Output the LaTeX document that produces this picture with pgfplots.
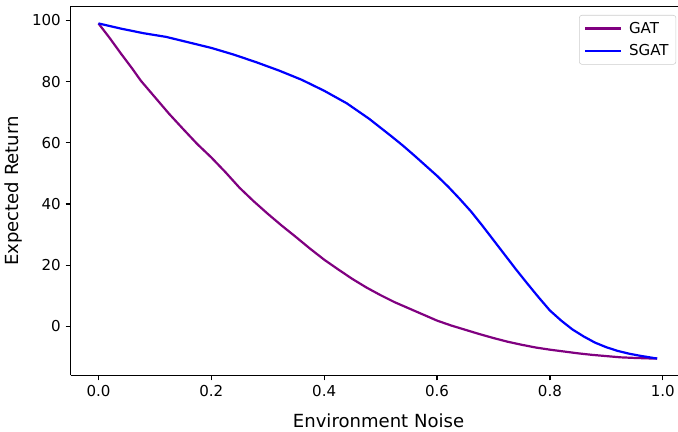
\documentclass[border=0pt]{standalone}
\usepackage{fontspec}
\setmainfont{DejaVu Sans}
\usepackage{pgfplots}
\pgfplotsset{compat=1.18}
\definecolor{gatpurple}{HTML}{800080}
\definecolor{sgatblue}{HTML}{0000FF}

\begin{document}
\begin{tikzpicture}[trim axis right]
\begin{axis}[
    scale only axis,
    width=454pt, height=275.5pt,
    xmin=-0.0495, xmax=1.027,
    ymin=-15.98, ymax=104.47,
    axis lines*=left,
    axis line style={-, line width=1pt, black},
    tick align=outside,
    major tick length=3.75pt,
    tick style={line width=1pt, black},
    xtick={0,0.2,0.4,0.6,0.8,1.0},
    ytick={0,20,40,60,80,100},
    xticklabel style={/pgf/number format/.cd, fixed, fixed zerofill, precision=1},
    tick label style={font=\fontsize{11.25}{13}\selectfont},
    /pgf/number format/assume math mode=true,
    xlabel={Environment Noise},
    ylabel={Expected Return},
    every axis x label/.style={at={(axis description cs:0.507,-0.1408)}, anchor=base, font=\fontsize{13.5}{16}\selectfont},
    every axis y label/.style={at={(axis description cs:-0.0862,0.5)}, rotate=90, anchor=base, font=\fontsize{13.5}{16}\selectfont},
    legend style={at={(axis description cs:1,1)}, anchor=north east, xshift=-1.35pt, yshift=-6.2pt,
        font=\fontsize{11.25}{13}\selectfont, draw=black!20, rounded corners=2pt,
        inner xsep=3.5pt, inner ysep=3pt, row sep=3pt, column sep=3pt, cells={anchor=west}},
    legend image code/.code={\draw[#1] (0pt,0pt) -- (27pt,0pt);},
]
\addplot[gatpurple, line width=1.65pt] coordinates {
(0.00,99.0) (0.02,94.2) (0.04,89.1) (0.06,84.2) (0.075,80.3) (0.10,74.9)
(0.125,69.5) (0.15,64.5) (0.175,59.6) (0.20,55.2) (0.225,50.4) (0.25,45.3)
(0.275,40.9) (0.30,36.8) (0.325,32.9) (0.35,29.2) (0.375,25.4) (0.40,21.8)
(0.425,18.6) (0.45,15.5) (0.475,12.7) (0.50,10.2) (0.525,7.9) (0.55,5.9)
(0.575,3.9) (0.60,1.9) (0.625,0.3) (0.65,-1.1) (0.675,-2.5) (0.70,-3.8)
(0.725,-5.0) (0.75,-6.0) (0.775,-6.9) (0.80,-7.6) (0.825,-8.2) (0.85,-8.8)
(0.875,-9.3) (0.90,-9.7) (0.925,-10.1) (0.95,-10.3) (0.975,-10.45) (0.99,-10.5)
};
\addlegendentry{GAT}
\addplot[sgatblue, line width=1.65pt] coordinates {
(0.00,99.0) (0.04,97.3) (0.08,95.8) (0.12,94.6) (0.16,92.8) (0.20,91.0)
(0.24,88.8) (0.28,86.3) (0.32,83.6) (0.36,80.6) (0.40,77.0) (0.44,72.9)
(0.48,67.8) (0.50,64.9) (0.52,62.0) (0.54,59.0) (0.56,55.8) (0.58,52.5)
(0.60,49.2) (0.62,45.6) (0.64,41.7) (0.66,37.6) (0.68,33.0) (0.70,28.2)
(0.72,23.4) (0.74,18.6) (0.76,14.0) (0.78,9.5) (0.80,5.2) (0.82,1.9)
(0.84,-1.0) (0.86,-3.3) (0.88,-5.3) (0.90,-6.8) (0.92,-8.0) (0.94,-8.9)
(0.96,-9.6) (0.98,-10.2) (0.99,-10.5)
};
\addlegendentry{SGAT}
\end{axis}
\draw[line width=1pt, line cap=rect] (current axis.north west) -- (current axis.north east);
\path ([yshift=5pt]current axis.north west);
\end{tikzpicture}
\end{document}
